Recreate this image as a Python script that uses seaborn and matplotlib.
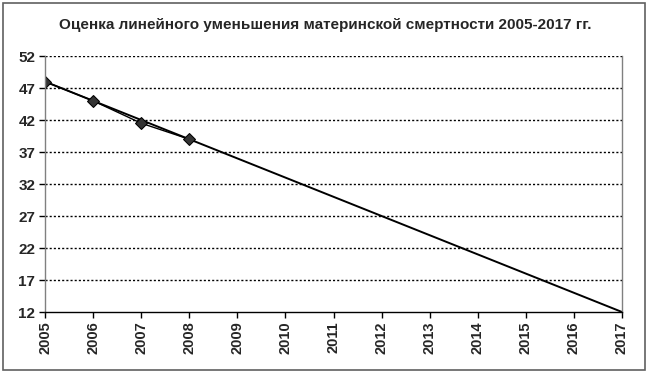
import matplotlib
matplotlib.use("Agg")
import matplotlib.pyplot as plt
from matplotlib.patches import Rectangle
import seaborn as sns
import pandas as pd

# observed values
years = [2005, 2006, 2007, 2008]
deaths = [48, 45, 41.5, 39]

# linear trend to 2017
trend_years = [2005, 2017]
trend_values = [48, 12]

year_ticks = list(range(2005, 2018))
y_ticks = list(range(12, 53, 5))

sns.set_style("white")
plt.rcParams['font.family'] = ['Liberation Sans', 'DejaVu Sans']

df = pd.DataFrame({'year': years, 'value': deaths})
df_trend = pd.DataFrame({'year': trend_years, 'value': trend_values})

fig = plt.figure(figsize=(6.5, 3.75), dpi=100)
ax = fig.add_axes([45/650, 63/375, 577/650, 256/375])

sns.lineplot(x='year', y='value', data=df_trend, ax=ax, color='black', linewidth=1.4)
sns.lineplot(x='year', y='value', data=df, ax=ax, color='black', linewidth=1.0,
             marker='D', markersize=6.5, markerfacecolor='#333333', markeredgecolor='black')

ax.set_xlim(2005, 2017)
ax.set_ylim(12, 52)
ax.set_xticks(year_ticks)
ax.set_yticks(y_ticks)
ax.set_xticklabels([str(y) for y in year_ticks], rotation=90, fontweight='bold', fontsize=10.5)
ax.set_yticklabels([str(v) for v in y_ticks], fontweight='bold', fontsize=11)
ax.tick_params(axis='both', direction='out', length=4, width=1, color='black', pad=3,
               bottom=True, left=True)
ax.set_xlabel('')
ax.set_ylabel('')

# dotted horizontal gridlines
for v in y_ticks[1:]:
    ax.axhline(v, color='black', linestyle=(0, (1.5, 1.5)), linewidth=1, zorder=0)

ax.spines['top'].set_visible(False)
ax.spines['left'].set_color('#808080')
ax.spines['right'].set_color('#808080')
ax.spines['bottom'].set_color('black')
for s in ax.spines.values():
    s.set_linewidth(1)

fig.text(0.5, 1 - 25/375, 'Оценка линейного уменьшения материнской смертности 2005-2017 гг.',
         ha='center', va='center', fontsize=11, fontweight='bold')

# outer frame
fig.patches.append(Rectangle((3/650, 5/375), 642/650, 367/375, transform=fig.transFigure,
                             fill=False, edgecolor='#606060', linewidth=1.2))

fig.savefig('out.png', dpi=100)
